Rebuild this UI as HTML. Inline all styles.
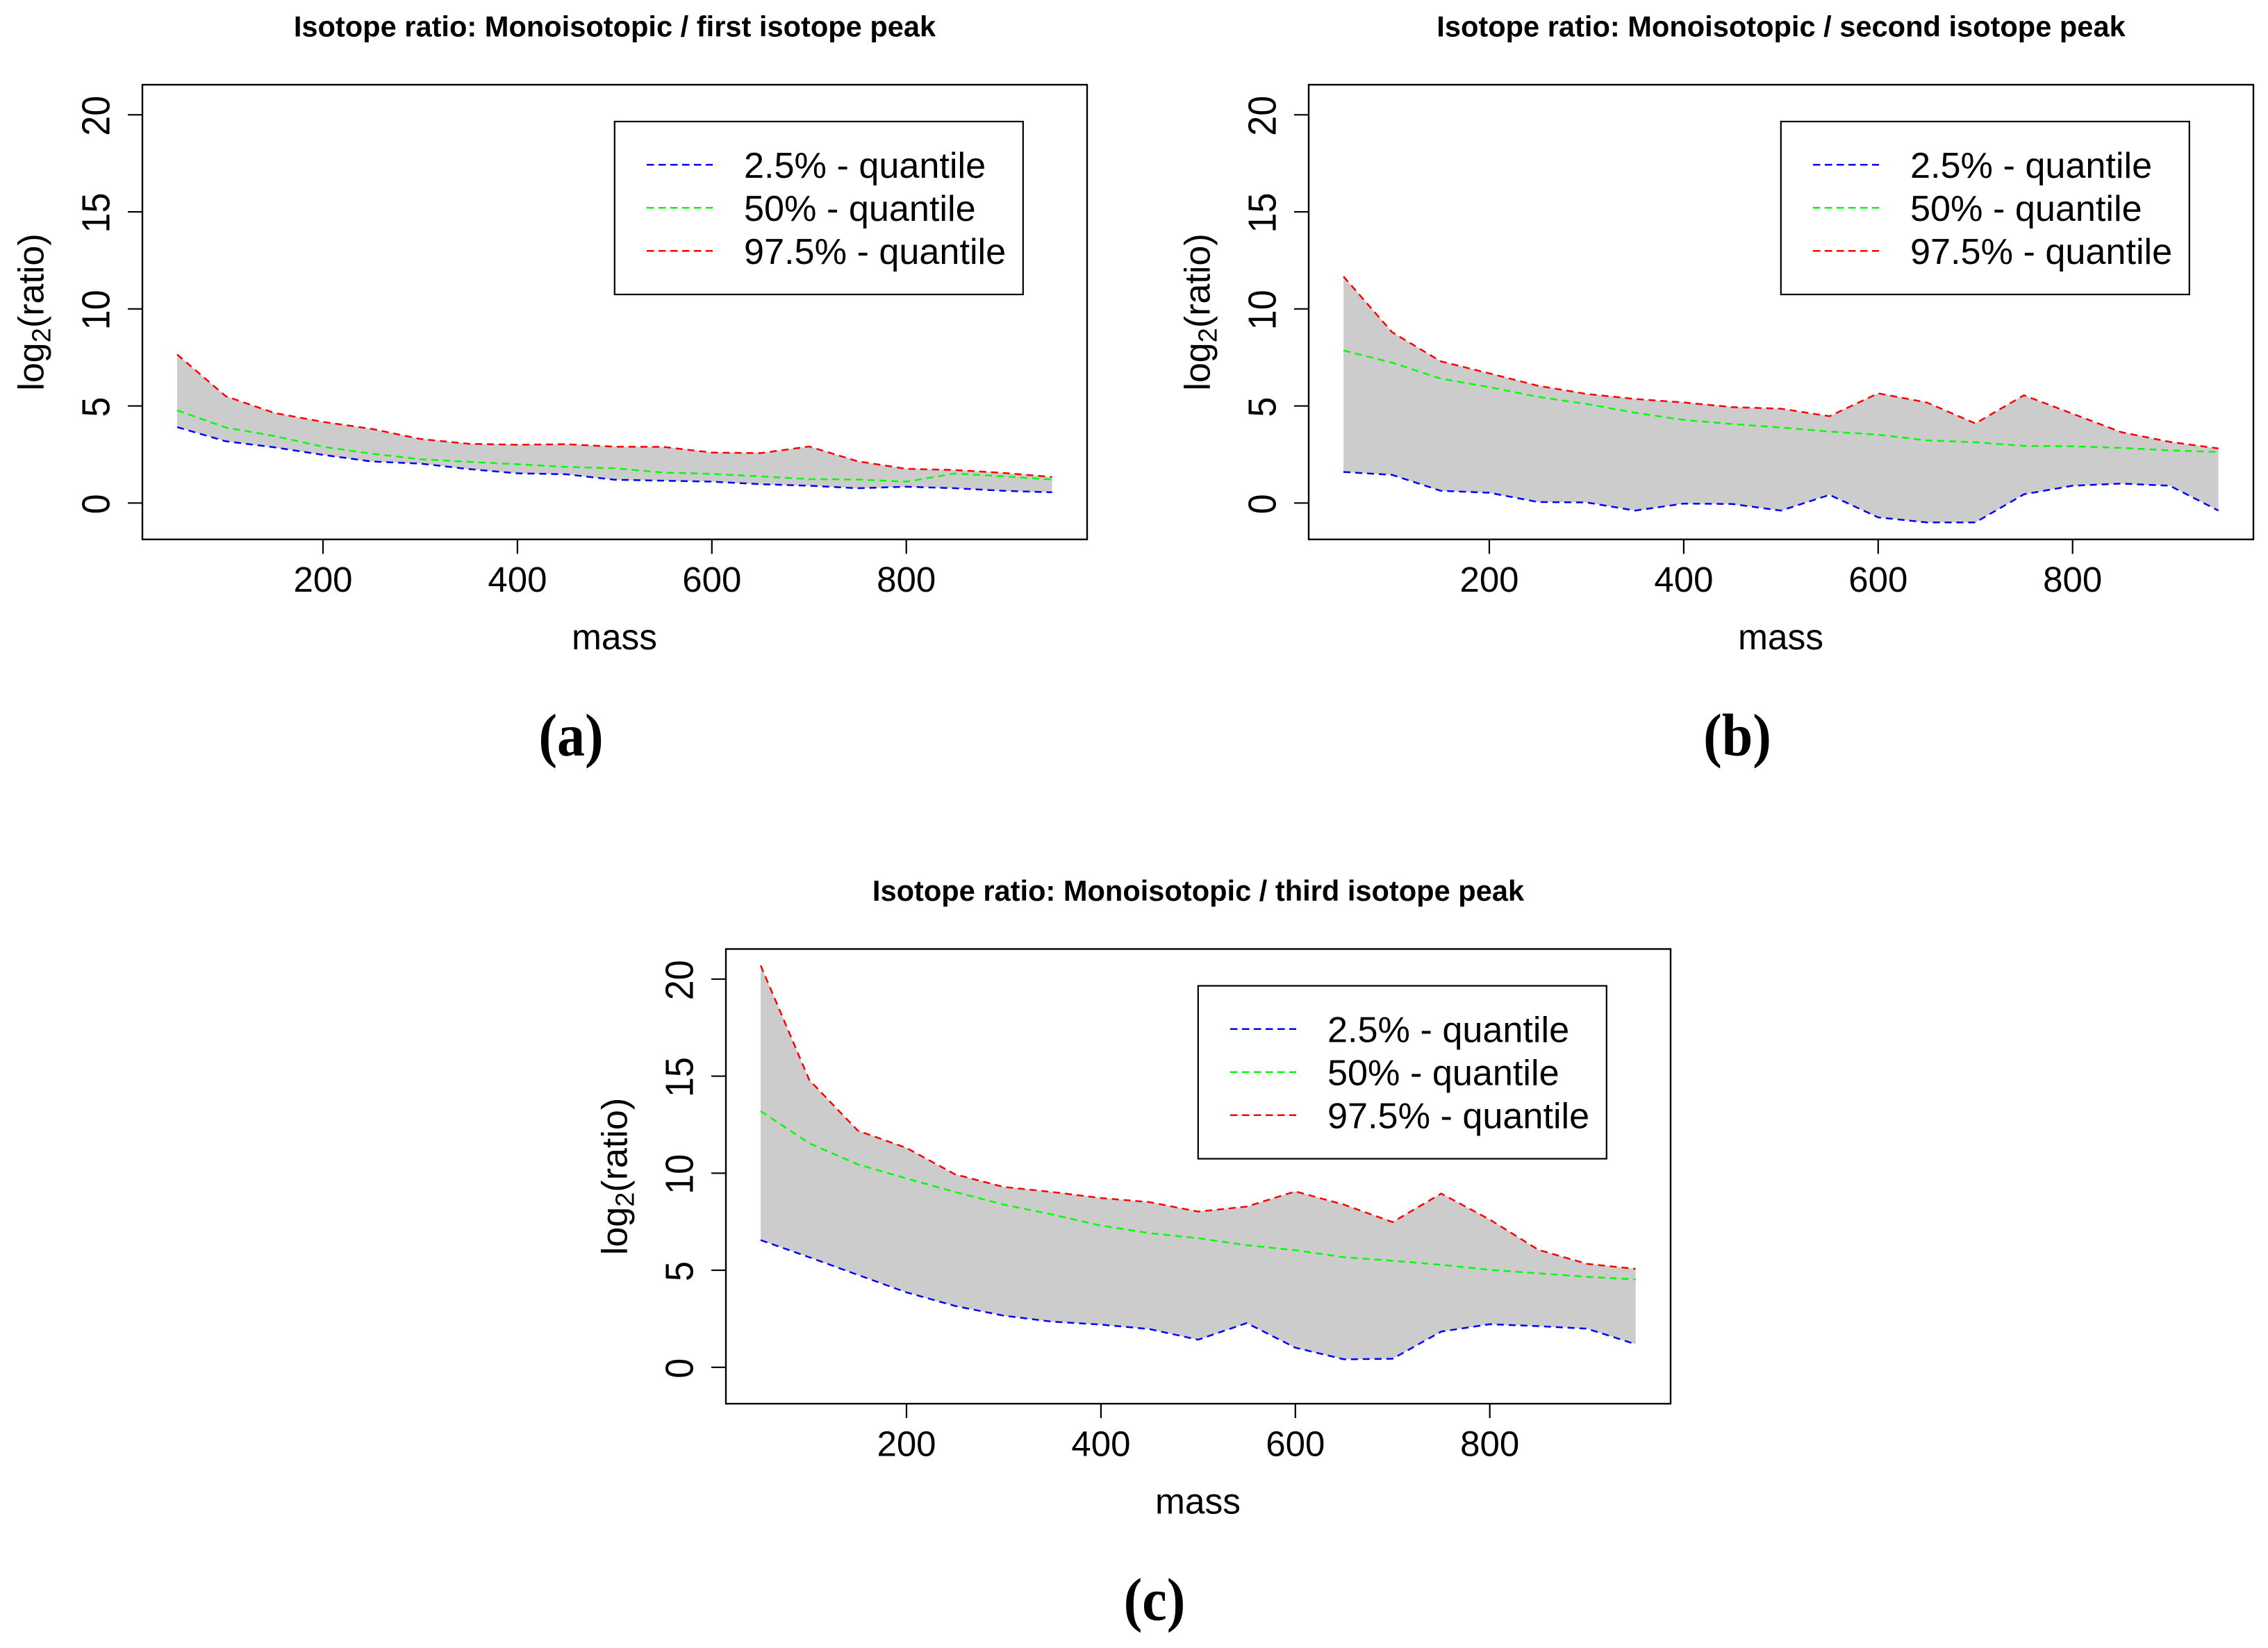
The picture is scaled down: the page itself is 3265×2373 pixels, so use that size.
<!DOCTYPE html>
<html lang="en">
<head>
<meta charset="utf-8">
<title>Isotope ratio quantiles by mass</title>
<style>
  html, body { margin: 0; padding: 0; background: #fff; }
  svg { display: block; }
  text { font-family: "Liberation Sans", sans-serif; fill: #000; }
</style>
</head>
<body>
<svg id="figure" xmlns="http://www.w3.org/2000/svg" width="3265" height="2373" viewBox="0 0 3265 2373">
  <rect x="0" y="0" width="3265" height="2373" fill="#ffffff"></rect>
</svg>
<script>
const masses = [50,100,150,200,250,300,350,400,450,500,550,600,650,700,750,800,850,900,950];
const xTickValues = [200,400,600,800];
const yTickValues = [0,5,10,15,20];
const legendLabels = ['2.5% - quantile','50% - quantile','97.5% - quantile'];

const firstBlue  = [3.91,3.18,2.87,2.48,2.14,2.03,1.75,1.53,1.48,1.20,1.15,1.10,0.97,0.89,0.76,0.84,0.76,0.63,0.55];
const firstGreen = [4.77,3.89,3.45,2.90,2.54,2.26,2.12,2.00,1.86,1.79,1.57,1.50,1.37,1.23,1.21,1.10,1.52,1.37,1.21];
const firstRed   = [7.65,5.50,4.64,4.18,3.82,3.30,3.05,3.00,3.03,2.90,2.89,2.60,2.57,2.91,2.15,1.76,1.70,1.55,1.34];

const secondBlue  = [1.60,1.45,0.63,0.53,0.05,0.03,-0.39,-0.03,-0.05,-0.39,0.42,-0.74,-1.00,-1.00,0.45,0.89,1.00,0.89,-0.39];
const secondGreen = [7.86,7.23,6.41,5.97,5.47,5.10,4.65,4.28,4.07,3.89,3.68,3.52,3.23,3.13,2.94,2.92,2.84,2.71,2.63];
const secondRed   = [11.67,8.80,7.30,6.68,6.04,5.62,5.36,5.18,4.94,4.86,4.47,5.65,5.18,4.10,5.55,4.60,3.65,3.15,2.81];

const thirdBlue  = [6.55,5.67,4.76,3.86,3.16,2.66,2.35,2.20,1.97,1.42,2.28,1.01,0.41,0.44,1.84,2.22,2.12,1.99,1.19];
const thirdGreen = [13.20,11.54,10.45,9.73,9.03,8.38,7.87,7.30,6.91,6.65,6.29,6.03,5.67,5.49,5.28,5.02,4.84,4.66,4.53];
const thirdRed   = [20.70,14.80,12.19,11.30,9.94,9.29,9.03,8.72,8.51,8.02,8.28,9.06,8.38,7.48,8.95,7.61,6.05,5.33,5.07];

const SVG_NS = 'http://www.w3.org/2000/svg';
const figure = document.getElementById('figure');

function make(parent, tag, attrs, content) {
  const el = document.createElementNS(SVG_NS, tag);
  for (const key in attrs) el.setAttribute(key, attrs[key]);
  if (content !== undefined) el.textContent = content;
  parent.appendChild(el);
  return el;
}

function xScale(mass) { return 465 + (mass - 200) * 1.3995; }
function yScale(value) { return 724.3 - value * 27.95; }

function pointList(values) {
  return values.map(function (v, i) {
    return xScale(masses[i]).toFixed(2) + ',' + yScale(v).toFixed(2);
  });
}

function linePoints(values) {
  return pointList(values).join(' ');
}

function bandPoints(upper, lower) {
  return pointList(upper).concat(pointList(lower).reverse()).join(' ');
}

function drawPanel(cfg) {
  const g = make(figure, 'g', { transform: 'translate(' + cfg.dx + ',' + cfg.dy + ')' });
  
  

  const title = make(g, 'text', { x: 885, y: 52.5, 'text-anchor': 'middle', 'font-size': 41.6, 'font-weight': 700 }, cfg.title);
  
  

  const band = make(g, 'polygon', { points: bandPoints(cfg.red, cfg.blue), fill: '#cccccc', stroke: 'none' });
  
  

  const seriesList = [
    { id: 'blue-quantile-line', values: cfg.blue, color: '#0000ff' },
    { id: 'green-quantile-line', values: cfg.green, color: '#00ff00' },
    { id: 'red-quantile-line', values: cfg.red, color: '#ff0000' }
  ];
  seriesList.forEach(function (s) {
    const line = make(g, 'polyline', { points: linePoints(s.values), fill: 'none', stroke: s.color, 'stroke-width': 2.5, 'stroke-dasharray': '10 7' });
    
    
  });

  const frame = make(g, 'rect', { x: 205, y: 122, width: 1360, height: 654.7, fill: 'none', stroke: '#000', 'stroke-width': 2.4 });
  
  

  xTickValues.forEach(function (t) {
    const tick = make(g, 'line', { x1: xScale(t), x2: xScale(t), y1: 776.7, y2: 797.5, stroke: '#000', 'stroke-width': 2.2 });
    
    
    const label = make(g, 'text', { x: xScale(t), y: 852, 'text-anchor': 'middle', 'font-size': 51 }, String(t));
    
    
  });

  yTickValues.forEach(function (t) {
    const tick = make(g, 'line', { x1: 184, x2: 205, y1: yScale(t), y2: yScale(t), stroke: '#000', 'stroke-width': 2.2 });
    
    
    const label = make(g, 'text', { transform: 'translate(157.5,' + (yScale(t) + 1.5) + ') rotate(-90) scale(1,1.08)', x: 0, y: 0, 'text-anchor': 'middle', 'font-size': 52 }, String(t));
    
    
  });

  const xTitle = make(g, 'text', { x: 884.5, y: 935, 'text-anchor': 'middle', 'font-size': 51.5 }, 'mass');
  
  

  const yTitle = make(g, 'text', { transform: 'translate(62.5,449.5) rotate(-90)', x: 0, y: 0, 'text-anchor': 'middle', 'font-size': 52 });
  
  
  make(yTitle, 'tspan', {}, 'log');
  make(yTitle, 'tspan', { dy: 10, 'font-size': 38 }, '2');
  make(yTitle, 'tspan', { dy: -10 }, '(ratio)');

  const legend = make(g, 'g', {});
  
  
  const legendBox = make(legend, 'rect', { x: 884.8, y: 175, width: 588, height: 249, fill: '#fff', stroke: '#000', 'stroke-width': 2.2 });
  
  
  const legendColors = ['#0000ff', '#00ff00', '#ff0000'];
  legendLabels.forEach(function (labelText, i) {
    const ly = 237.3 + i * 62;
    const sample = make(legend, 'line', { x1: 931, x2: 1026, y1: ly, y2: ly, stroke: legendColors[i], 'stroke-width': 2.5, 'stroke-dasharray': '10.5 6.5' });
    
    
    const txt = make(legend, 'text', { x: 1071, y: ly + 18.5, 'font-size': 52.2 }, labelText);
    
    
  });

  const caption = make(g, 'text', { transform: 'translate(822,1088) scale(1,1.08)', x: 0, y: 0, 'text-anchor': 'middle', 'font-size': 80, 'font-weight': 700, style: 'font-family:"Liberation Serif",serif' }, cfg.caption);
  
  
}

drawPanel({ key: 'first-peak', dx: 0, dy: 0, title: 'Isotope ratio: Monoisotopic / first isotope peak', caption: '(a)', blue: firstBlue, green: firstGreen, red: firstRed });
drawPanel({ key: 'second-peak', dx: 1679, dy: 0, title: 'Isotope ratio: Monoisotopic / second isotope peak', caption: '(b)', blue: secondBlue, green: secondGreen, red: secondRed });
drawPanel({ key: 'third-peak', dx: 840, dy: 1244.5, title: 'Isotope ratio: Monoisotopic / third isotope peak', caption: '(c)', blue: thirdBlue, green: thirdGreen, red: thirdRed });
</script>
</body>
</html>
